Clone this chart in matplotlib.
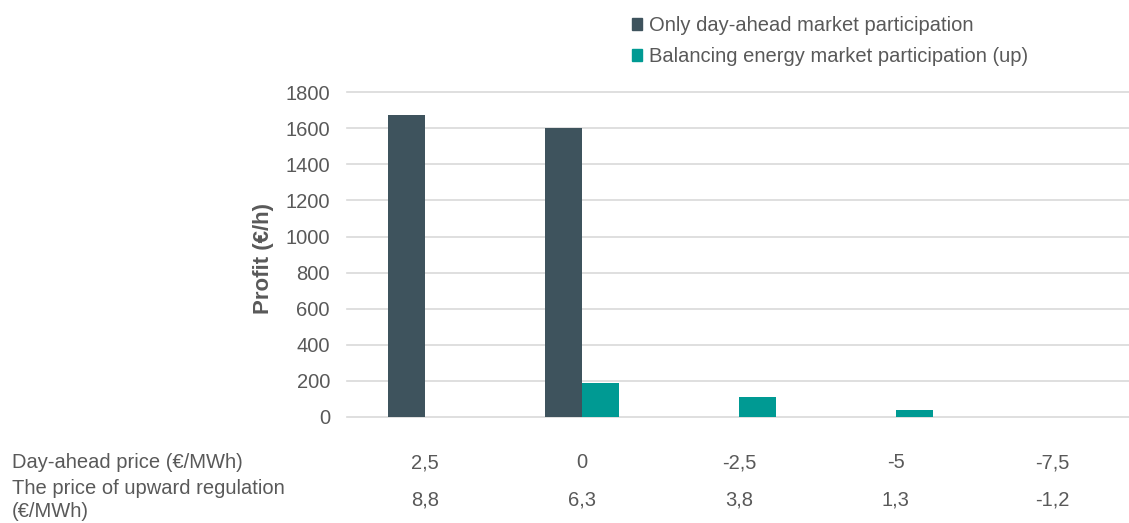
import matplotlib
matplotlib.use("Agg")
import matplotlib.pyplot as plt
from matplotlib.patches import Patch
from matplotlib.transforms import blended_transform_factory
import numpy as np

plt.rcParams["font.family"] = ["Liberation Sans", "DejaVu Sans"]

day_ahead_price = ["2,5", "0", "-2,5", "-5", "-7,5"]
upward_price = ["8,8", "6,3", "3,8", "1,3", "-1,2"]
only_day_ahead = [1675, 1600, 0, 0, 0]
balancing_up = [0, 189, 109, 37, 0]
yticks = [0, 200, 400, 600, 800, 1000, 1200, 1400, 1600, 1800]

DARK = "#3E535D"
TEAL = "#009A93"
TEXT = "#595959"
GRID = "#D9D9D9"
FS = 14.5

fig = plt.figure(figsize=(11.29, 5.23), dpi=100)
ax = fig.add_axes([0.307, 0.2027, 0.695, 0.621])

x = np.arange(len(day_ahead_price))
width = 0.236
ax.bar(x - width / 2, only_day_ahead, width, color=DARK, zorder=3)
ax.bar(x + width / 2, balancing_up, width, color=TEAL, zorder=3)

ax.set_xlim(-0.5, len(x) - 0.5)
ax.set_ylim(0, 1800)
ax.set_yticks(yticks)
ax.set_yticklabels([str(v) for v in yticks])
ax.set_xticks([])
ax.tick_params(axis="y", length=0, pad=12, labelsize=FS, labelcolor=TEXT)
ax.grid(axis="y", color=GRID, linewidth=1.2, zorder=0)
for line in ax.get_ygridlines():
    line.set_clip_on(False)
for spine in ax.spines.values():
    spine.set_visible(False)

fig.text(263 / 1129, 1 - 258 / 523, "Profit (€/h)", rotation=90, ha="center",
         va="center", fontsize=16, fontweight="bold", color=TEXT)

# price table under the bars
trans = blended_transform_factory(ax.transData, fig.transFigure)
row1_y = 1 - 463 / 523
row2_y = 1 - 500 / 523
fig.text(12 / 1129, row1_y, "Day-ahead price (€/MWh)", ha="left", va="center",
         fontsize=FS, color=TEXT)
fig.text(12 / 1129, row2_y, "The price of upward regulation\n(€/MWh)", ha="left",
         va="center", fontsize=FS, color=TEXT, linespacing=1.3)
for xi, p1, p2 in zip(x, day_ahead_price, upward_price):
    ax.text(xi, row1_y, p1, transform=trans, ha="center", va="center",
            fontsize=FS, color=TEXT)
    ax.text(xi, row2_y, p2, transform=trans, ha="center", va="center",
            fontsize=FS, color=TEXT)

handles = [Patch(color=DARK, label="Only day-ahead market participation"),
           Patch(color=TEAL, label="Balancing energy market participation (up)")]
leg = fig.legend(handles=handles, loc="upper left",
                 bbox_to_anchor=(624 / 1129, 1 - 8 / 523), frameon=False,
                 fontsize=FS, handlelength=0.5, handleheight=0.5,
                 handletextpad=0.35, labelspacing=0.6, borderaxespad=0)
for t in leg.get_texts():
    t.set_color(TEXT)

fig.savefig("out.png", dpi=100)
